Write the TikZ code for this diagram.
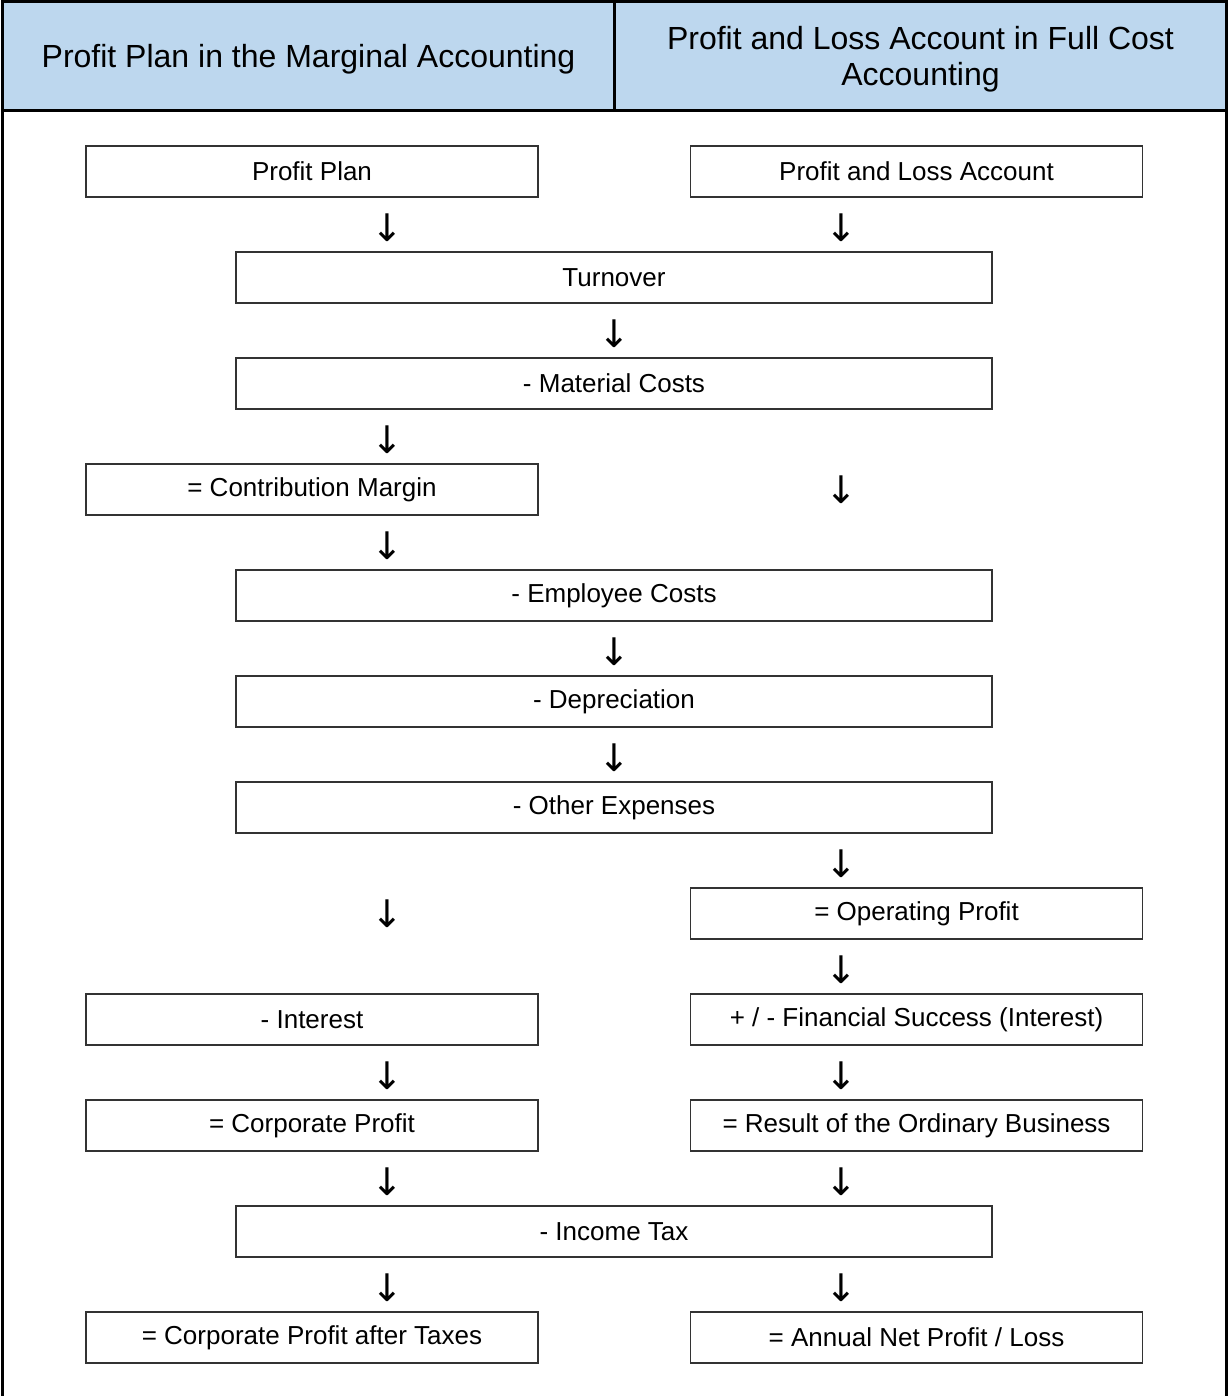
\documentclass[tikz,border=0pt]{standalone}
\usepackage{fontspec}
\setmainfont{Liberation Sans}
\newfontfamily\arrowfont{DejaVu Sans}
\definecolor{hdrblue}{HTML}{BDD7EE}
\definecolor{boxline}{HTML}{333333}
\begin{document}
\begin{tikzpicture}[x=0.5pt,y=-0.5pt,
  hdrtext/.style={align=center,font=\fontsize{16}{18}\selectfont,inner sep=0pt},
  colbox/.style={draw=boxline,line width=0.9pt,minimum width=226pt,minimum height=25.5pt,inner sep=0pt,font=\fontsize{13}{15}\selectfont},
  widebox/.style={colbox,minimum width=378pt},
  dnarrow/.style={inner sep=0pt,font=\arrowfont\fontsize{19}{19}\selectfont}
]
\useasboundingbox (0,0) rectangle (1228,1396);
% header
\fill[hdrblue] (2.5,2) rectangle (1226,110.5);
\draw[line width=1.5pt] (2.5,1396) -- (2.5,2) -- (1226,2) -- (1226,1396);
\draw[line width=1.5pt] (2.5,110.5) -- (1226,110.5);
\draw[line width=1.2pt] (614.5,2) -- (614.5,110.5);
\node[hdrtext] (hl) at (308.5,59) {Profit Plan in the Marginal Accounting};
\node[hdrtext] (hr) at (920.5,59) {Profit and Loss Account in Full Cost\\Accounting};
% row 1
\node[colbox] (pp) at (312,171.5) {Profit Plan};
\node[colbox] (pla) at (916.5,171.5) {Profit and Loss Account};
\node[dnarrow] (a1l) at (387,228) {↓};
\node[dnarrow] (a1r) at (841,228) {↓};
% row 2
\node[widebox] (turn) at (614,277.5) {Turnover};
\node[dnarrow] (a2) at (614,334) {↓};
% row 3
\node[widebox] (mat) at (614,383.5) {- Material Costs};
\node[dnarrow] (a3) at (387,440) {↓};
% row 4
\node[colbox] (cm) at (312,489.5) {= Contribution Margin};
\node[dnarrow] (a4r) at (841,489.5) {↓};
\node[dnarrow] (a4) at (387,546) {↓};
% row 5
\node[widebox] (emp) at (614,595.5) {- Employee Costs};
\node[dnarrow] (a5) at (614,652) {↓};
% row 6
\node[widebox] (dep) at (614,701.5) {- Depreciation};
\node[dnarrow] (a6) at (614,758) {↓};
% row 7
\node[widebox] (oth) at (614,807.5) {- Other Expenses};
\node[dnarrow] (a7) at (841,864) {↓};
% row 8
\node[dnarrow] (a8l) at (387,913.5) {↓};
\node[colbox] (op) at (916.5,913.5) {= Operating Profit};
\node[dnarrow] (a8) at (841,970) {↓};
% row 9
\node[colbox] (int) at (312,1019.5) {- Interest};
\node[colbox] (fin) at (916.5,1019.5) {+ / - Financial Success (Interest)};
\node[dnarrow] (a9l) at (387,1076) {↓};
\node[dnarrow] (a9r) at (841,1076) {↓};
% row 10
\node[colbox] (cp) at (312,1125.5) {= Corporate Profit};
\node[colbox] (rob) at (916.5,1125.5) {= Result of the Ordinary Business};
\node[dnarrow] (a10l) at (387,1182) {↓};
\node[dnarrow] (a10r) at (841,1182) {↓};
% row 11
\node[widebox] (tax) at (614,1231.5) {- Income Tax};
\node[dnarrow] (a11l) at (387,1288) {↓};
\node[dnarrow] (a11r) at (841,1288) {↓};
% row 12
\node[colbox] (cpat) at (312,1337.5) {= Corporate Profit after Taxes};
\node[colbox] (anp) at (916.5,1337.5) {= Annual Net Profit / Loss};
\end{tikzpicture}
\end{document}
